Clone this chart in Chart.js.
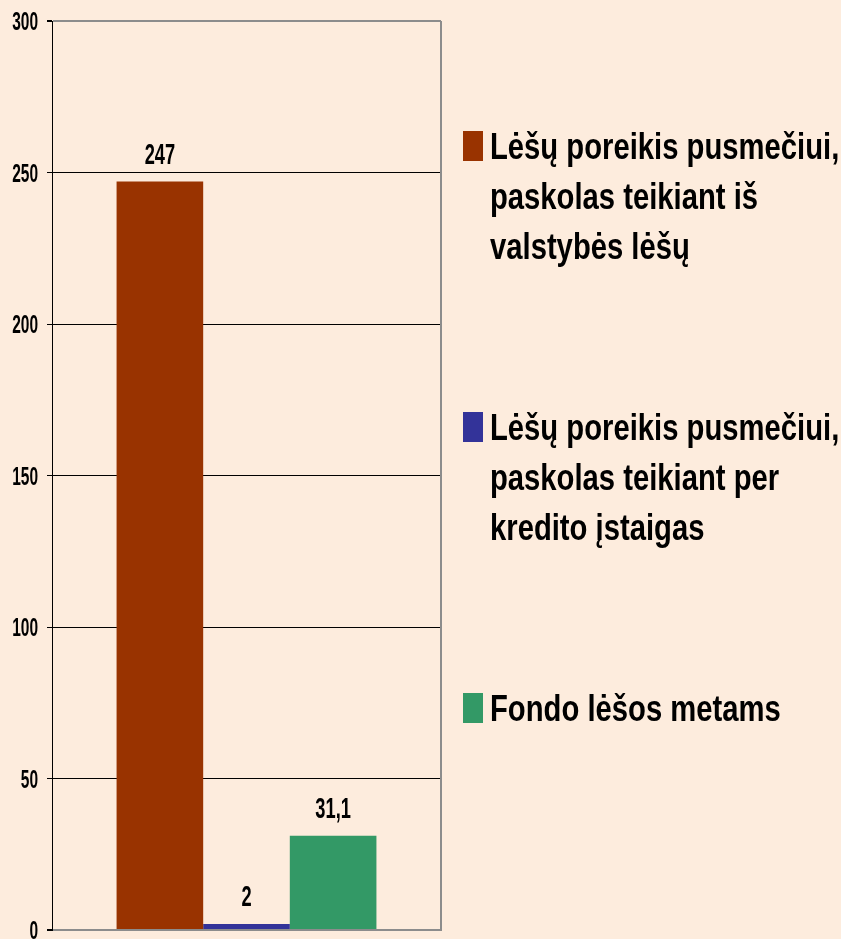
<!DOCTYPE html>
<html lang="lt">
<head>
<meta charset="UTF-8">
<title>Lėšų poreikis</title>
<script src="https://cdn.jsdelivr.net/npm/chart.js@4.4.1/dist/chart.umd.min.js"></script>
<style>
  html, body { margin: 0; padding: 0; background: #fdecdd; }
  #wrap { width: 841px; height: 939px; position: relative; }
</style>
</head>
<body>
<div id="wrap"><canvas id="chart"></canvas></div>
<script>
// chart data
const categories = [''];
const seriesNames = [
  ['Lėšų poreikis pusmečiui,', 'paskolas teikiant iš', 'valstybės lėšų'],
  ['Lėšų poreikis pusmečiui,', 'paskolas teikiant per', 'kredito įstaigas'],
  ['Fondo lėšos metams']
];
const seriesValues = [[247], [2], [31.1]];
const seriesColors = ['#993300', '#333399', '#339966'];
const yTicks = [0, 50, 100, 150, 200, 250, 300];

const FONT = "'Liberation Sans', Arial, sans-serif";

function fmt(v) {
  return String(v).replace('.', ',');
}

// text squeezed horizontally, like Arial Narrow
function narrowText(ctx, text, x, y, sx, align) {
  ctx.save();
  ctx.textAlign = align;
  ctx.textBaseline = 'alphabetic';
  ctx.scale(sx, 1);
  ctx.fillText(text, x / sx, y);
  ctx.restore();
}

// background, frame and y tick labels
const framePlugin = {
  id: 'frame',
  beforeDraw(chart) {
    const ctx = chart.ctx;
    ctx.save();
    ctx.fillStyle = '#fdecdd';
    ctx.fillRect(0, 0, chart.width, chart.height);
    ctx.restore();
  },
  afterDraw(chart) {
    const a = chart.chartArea;
    const ctx = chart.ctx;
    ctx.save();
    ctx.strokeStyle = '#8c8c8c';
    ctx.lineWidth = 2;
    ctx.beginPath();
    ctx.moveTo(a.right, a.top);
    ctx.lineTo(a.right, a.bottom + 1);
    ctx.stroke();

    const y = chart.scales.y;
    ctx.fillStyle = '#000';
    ctx.font = 'bold 25px ' + FONT;
    yTicks.forEach(v => {
      narrowText(ctx, String(v), 38, y.getPixelForValue(v) + 9, 0.62, 'right');
    });
    ctx.restore();
  }
};

// value labels above bars
const valuePlugin = {
  id: 'values',
  afterDatasetsDraw(chart) {
    const ctx = chart.ctx;
    ctx.save();
    ctx.font = 'bold 29px ' + FONT;
    ctx.fillStyle = '#000';
    chart.data.datasets.forEach((ds, i) => {
      chart.getDatasetMeta(i).data.forEach((bar, j) => {
        narrowText(ctx, fmt(ds.data[j]), bar.x, bar.y - 18, 0.63, 'center');
      });
    });
    ctx.restore();
  }
};

// legend on the right, multi-line entries
const legendPlugin = {
  id: 'sideLegend',
  afterDraw(chart) {
    const ctx = chart.ctx;
    ctx.save();
    ctx.font = 'bold 37px ' + FONT;
    const tops = [131, 412, 693];
    chart.data.datasets.forEach((ds, i) => {
      const top = tops[i];
      ctx.fillStyle = seriesColors[i];
      ctx.fillRect(463, top, 20, 30);
      ctx.fillStyle = '#000';
      seriesNames[i].forEach((line, k) => {
        narrowText(ctx, line, 490, top + 28 + k * 50, 0.79, 'left');
      });
    });
    ctx.restore();
  }
};

new Chart(document.getElementById('chart'), {
  type: 'bar',
  data: {
    labels: categories,
    datasets: seriesValues.map((vals, i) => ({
      label: seriesNames[i].join(' '),
      data: vals,
      backgroundColor: seriesColors[i],
      borderWidth: 0,
      categoryPercentage: 0.668,
      barPercentage: 1
    }))
  },
  options: {
    responsive: true,
    maintainAspectRatio: false,
    animation: false,
    layout: { padding: { top: 21, right: 400, bottom: 9, left: 0 } },
    plugins: {
      legend: { display: false },
      tooltip: { enabled: false }
    },
    scales: {
      x: {
        display: false
      },
      y: {
        min: 0,
        max: 300,
        afterBuildTicks(scale) { scale.ticks = yTicks.map(v => ({ value: v })); },
        afterFit(scale) { scale.width = 52; },
        ticks: { display: false },
        grid: {
          color: ctx => (ctx.tick && (ctx.tick.value === 0 || ctx.tick.value === 300)) ? '#8c8c8c' : '#000',
          lineWidth: ctx => (ctx.tick && (ctx.tick.value === 0 || ctx.tick.value === 300)) ? 2 : 1,
          tickLength: 5,
          tickColor: '#000'
        },
        border: { color: '#000', width: 1 }
      }
    }
  },
  plugins: [framePlugin, valuePlugin, legendPlugin]
});
</script>
</body>
</html>
